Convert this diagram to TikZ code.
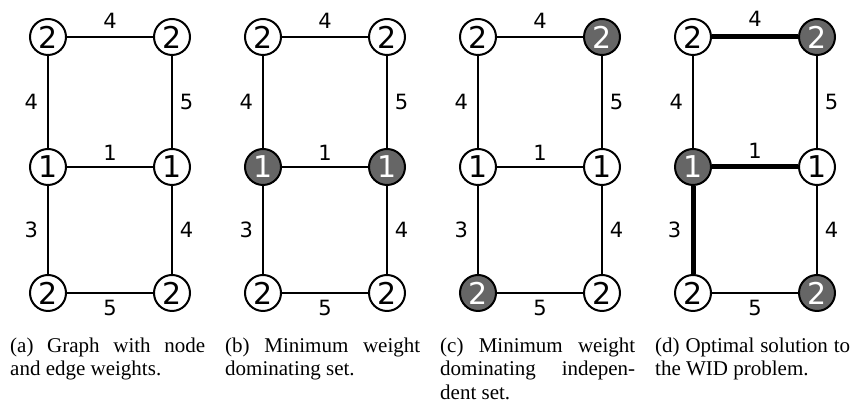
\documentclass[tikz,border=0pt]{standalone}
\usepackage{fontspec}
\setmainfont{Liberation Serif}
\newfontfamily\dejavu{DejaVu Sans}
\usetikzlibrary{positioning}

\tikzset{
  vertex/.style={circle, draw, line width=2pt, minimum size=36pt, inner sep=0pt,
    font=\dejavu\fontsize{30}{30}\selectfont},
  chosen/.style={fill=black!60, text=white},
  edge/.style={line width=1.2pt},
  picked/.style={line width=5pt},
  weight/.style={font=\dejavu\fontsize{21}{21}\selectfont},
  subcap/.style={anchor=north west, inner sep=0pt, text width=195pt, align=justify,
    font=\fontsize{21}{23.5}\selectfont},
  % shaded vertices and solution edges of each panel
  b3/.style=chosen, b4/.style=chosen,
  c2/.style=chosen, c5/.style=chosen,
  d2/.style=chosen, d3/.style=chosen, d6/.style=chosen,
  d12/.style=picked, d34/.style=picked, d35/.style=picked
}

\begin{document}
\begin{tikzpicture}[x=1pt, y=1pt]
  \useasboundingbox (0,0) rectangle (855,403);
  \foreach \p/\txt [count=\k from 0] in {
      a/{(a) Graph with node and edge weights.},
      b/{(b) Minimum weight dominating set.},
      c/{(c) Minimum weight dominating independent set.},
      d/{(d) Optimal solution to the WID problem.}} {
    \begin{scope}[xshift=215*\k]
      \node[vertex, \p1/.try] (\p1) at (48,366) {2};
      \node[vertex, \p2/.try] (\p2) at (172,366) {2};
      \node[vertex, \p3/.try] (\p3) at (48,236) {1};
      \node[vertex, \p4/.try] (\p4) at (172,236) {1};
      \node[vertex, \p5/.try] (\p5) at (48,110) {2};
      \node[vertex, \p6/.try] (\p6) at (172,110) {2};
      \foreach \u/\v/\w/\side/\gap in {1/2/4/above/5pt, 1/3/4/left/6pt,
          2/4/5/right/4pt, 3/4/1/above/3pt, 3/5/3/left/6pt,
          4/6/4/right/4pt, 5/6/5/below/3pt}
        \draw[edge, \p\u\v/.try] (\p\u) -- node[weight, \side=\gap] {\w} (\p\v);
      \node[subcap] (cap\p) at (10,67.5) {\strut\txt};
    \end{scope}
  }
\end{tikzpicture}
\end{document}
